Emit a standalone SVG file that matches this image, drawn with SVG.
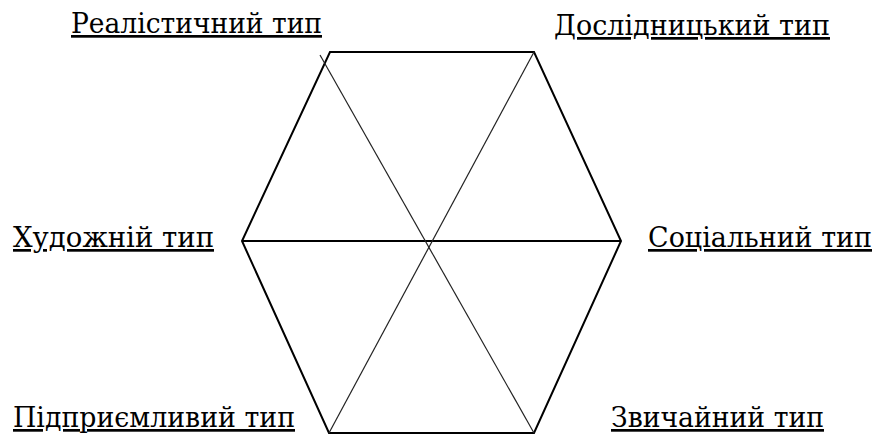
<svg xmlns="http://www.w3.org/2000/svg" width="877" height="444" viewBox="0 0 877 444">
<style>
.lbl{font-family:"DejaVu Serif","Liberation Serif","Times New Roman",serif;font-size:27px;fill:#000;text-decoration:underline}
.hex{fill:none;stroke:#000;stroke-width:2;stroke-linejoin:miter}
.diag{stroke:#222;stroke-width:1.2;fill:none}
.hor{stroke:#000;stroke-width:1.8}
</style>
<rect width="877" height="444" fill="#fff"/>
<g id="connectors">
<polygon class="hex" points="330,52 534,52 621,241 534,433 329,433 242,241"/>
<line class="hor" x1="242" y1="241" x2="621" y2="241"/>
<line class="diag" x1="320" y1="55" x2="534" y2="433"/>
<line class="diag" x1="534" y1="52" x2="329" y2="433"/>
</g>
<g id="realistic"><text class="lbl" x="71" y="33" textLength="251" lengthAdjust="spacingAndGlyphs">Реалістичний тип</text></g>
<g id="investigative"><text class="lbl" x="554" y="35" textLength="276" lengthAdjust="spacingAndGlyphs">Дослідницький тип</text></g>
<g id="artistic"><text class="lbl" x="13" y="247" textLength="201" lengthAdjust="spacingAndGlyphs">Художній тип</text></g>
<g id="social"><text class="lbl" x="648" y="247" textLength="224" lengthAdjust="spacingAndGlyphs">Соціальний тип</text></g>
<g id="enterprising"><text class="lbl" x="13" y="427" textLength="282" lengthAdjust="spacingAndGlyphs">Підприємливий тип</text></g>
<g id="conventional"><text class="lbl" x="611" y="427" textLength="213" lengthAdjust="spacingAndGlyphs">Звичайний тип</text></g>
</svg>
